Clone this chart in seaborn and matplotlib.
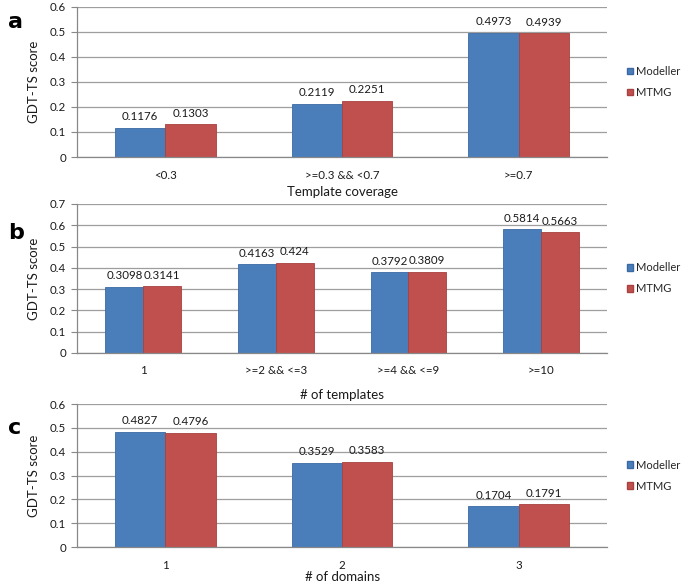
import matplotlib
matplotlib.use("Agg")
import matplotlib.pyplot as plt
import seaborn as sns
import pandas as pd
from matplotlib.patches import Patch
from matplotlib.ticker import FixedLocator

# ---- data ----
series = ["Modeller", "MTMG"]

cats_a = ["<0.3", ">=0.3 && <0.7", ">=0.7"]
modeller_a = [0.1176, 0.2119, 0.4973]
mtmg_a = [0.1303, 0.2251, 0.4939]

cats_b = ["1", ">=2 && <=3", ">=4 && <=9", ">=10"]
modeller_b = [0.3098, 0.4163, 0.3792, 0.5814]
mtmg_b = [0.3141, 0.4240, 0.3809, 0.5663]

cats_c = ["1", "2", "3"]
modeller_c = [0.4827, 0.3529, 0.1704]
mtmg_c = [0.4796, 0.3583, 0.1791]

sns.set_theme(style="white")
plt.rcParams["font.family"] = ["Lato", "DejaVu Sans"]

BLUE = "#4A7EBB"
RED = "#C0504D"
EDGE = ["#3B6AA3", "#A8413F"]
GRID = "#9E9E9E"
TXT = "#1a1a1a"

fig = plt.figure(figsize=(6.85, 5.82), dpi=100)

panels = [
    dict(cats=cats_a, m=modeller_a, t=mtmg_a, pos=[0.1124, 0.7302, 0.774, 0.258],
         ymax=0.6, xlabel="Template coverage", letter="a", letter_y=0.962, lpad=4),
    dict(cats=cats_b, m=modeller_b, t=mtmg_b, pos=[0.1124, 0.3935, 0.774, 0.256],
         ymax=0.7, xlabel="# of templates", letter="b", letter_y=0.600, lpad=9),
    dict(cats=cats_c, m=modeller_c, t=mtmg_c, pos=[0.1124, 0.0601, 0.774, 0.2457],
         ymax=0.6, xlabel="# of domains", letter="c", letter_y=0.264, lpad=0),
]

for p in panels:
    ax = fig.add_axes(p["pos"])
    df = pd.DataFrame({
        "cat": p["cats"] * 2,
        "val": p["m"] + p["t"],
        "series": [series[0]] * len(p["cats"]) + [series[1]] * len(p["cats"]),
    })
    sns.barplot(data=df, x="cat", y="val", hue="series", order=p["cats"],
                hue_order=series, palette=[BLUE, RED], saturation=1,
                width=0.57, ax=ax, linewidth=0.6, errorbar=None)
    for cont, ec in zip(ax.containers, EDGE):
        for bar in cont:
            bar.set_edgecolor(ec)
        ax.bar_label(cont, labels=[f"{b.get_height():g}" for b in cont],
                     padding=4, fontsize=8.3, color=TXT)
    ax.get_legend().remove()

    n = len(p["cats"])
    ax.set_xlim(-0.5, n - 0.5)
    ax.set_ylim(0, p["ymax"])
    yt = [round(0.1 * i, 1) for i in range(int(round(p["ymax"] * 10)) + 1)]
    ax.set_yticks(yt)
    ax.set_yticklabels(["0" if v == 0 else f"{v:g}" for v in yt], fontsize=8.3, color=TXT)
    ax.yaxis.grid(True, color=GRID, linewidth=0.9)
    ax.set_axisbelow(True)

    ax.set_xticks(range(n))
    ax.set_xticklabels(p["cats"], fontsize=8.3, color=TXT)
    ax.xaxis.set_minor_locator(FixedLocator([i - 0.5 for i in range(n + 1)]))
    ax.tick_params(axis="x", which="major", length=0, pad=9)
    ax.tick_params(axis="x", which="minor", length=4, width=0.8, color="#888888", direction="out")
    ax.tick_params(axis="y", length=4, width=0.8, color="#888888", direction="out", pad=4, left=True)

    for s in ["top", "right"]:
        ax.spines[s].set_visible(False)
    for s in ["left", "bottom"]:
        ax.spines[s].set_color("#888888")
        ax.spines[s].set_linewidth(0.9)

    ax.set_xlabel(p["xlabel"], fontsize=9.5, color=TXT, labelpad=p["lpad"])
    ax.set_ylabel("GDT-TS score", fontsize=9.5, color=TXT, labelpad=7)

    handles = [Patch(facecolor=BLUE, edgecolor=EDGE[0]), Patch(facecolor=RED, edgecolor=EDGE[1])]
    ax.legend(handles, series, loc="center left", bbox_to_anchor=(1.038, 0.5),
              frameon=False, fontsize=8, handlelength=0.55, handleheight=0.55,
              handletextpad=0.25, labelspacing=0.9, borderpad=0, borderaxespad=0)

    fig.text(0.012, p["letter_y"], p["letter"], fontsize=16, fontweight="bold",
             color="black", family=["DejaVu Sans"], va="center", ha="left")

fig.savefig("out.png", dpi=100)
